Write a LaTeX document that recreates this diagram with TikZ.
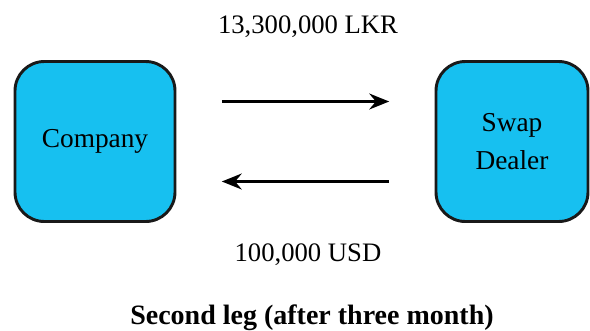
\documentclass[tikz,border=0pt]{standalone}
\usepackage{fontspec}
\setmainfont{Liberation Serif}
\usetikzlibrary{arrows.meta}
\definecolor{boxblue}{RGB}{23,192,240}
\begin{document}
\begin{tikzpicture}[x=0.75pt,y=-0.75pt,
    party/.style={draw=black!90,fill=boxblue,line width=2.2pt,rounded corners=22pt,
      minimum height=120pt,align=center,font=\fontsize{20.5}{28}\selectfont},
    flow/.style={line width=1.6pt,-{Stealth[length=15pt,width=12pt,inset=5pt]},
      shorten >=34pt,shorten <=34pt},
    amount/.style={font=\fontsize{20}{24}\selectfont}]
          \useasboundingbox (0,0) rectangle (590,330);
          \node[party,minimum width=120pt] (company) at (95,141.5) {Company};
          \node[party,minimum width=114pt] (dealer) at (512,141.5) {Swap\\Dealer};

          \draw[flow] ([yshift=30pt]company.east) -- ([yshift=30pt]company.east -| dealer.west);
          \draw[flow] ([yshift=-30pt]company.east -| dealer.west) -- ([yshift=-30pt]company.east);

          \node[amount] (lkr) at (308,27) {13,300,000 LKR};
          \node[amount] (usd) at (308,255) {100,000 USD};
          \node[font=\fontsize{21}{24}\selectfont\bfseries] (title) at (312,318) {Second leg (after three month)};
        \end{tikzpicture}
\end{document}
